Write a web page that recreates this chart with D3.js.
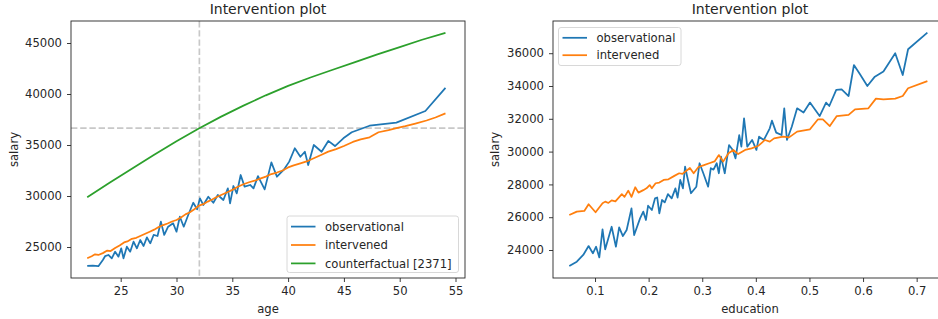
<!DOCTYPE html>
<html>
  <head>
    <meta charset="utf-8">
    <script src="https://cdn.jsdelivr.net/npm/d3@7"></script>
    <style>
      body { margin: 0; background: #ffffff; }
      svg text { font-family: "DejaVu Sans", sans-serif; fill: #262626; }
    </style>
  </head>
  <body>
    <script>
      // ---- left panel: salary against age ----
      var ageObs = [22.0, 22.5, 23.0, 23.4, 23.6, 23.9, 24.2, 24.5, 24.8, 25.05, 25.25, 25.55, 25.85, 26.15, 26.45, 26.75,
                    27.05, 27.35, 27.65, 27.95, 28.3, 28.6, 28.9, 29.25, 29.7, 30.0, 30.3, 30.65, 31.05, 31.5, 31.85, 32.1,
                    32.4, 32.85, 33.3, 33.7, 34.2, 34.6, 34.8, 35.1, 35.4, 35.75, 36.1, 36.6, 36.9, 37.3, 37.9, 38.5,
                    39.0, 39.6, 40.1, 40.6, 41.1, 41.5, 41.8, 42.3, 43.0, 43.6, 44.2, 44.95, 45.7, 47.3, 49.7, 52.3, 54.1];
      var salaryObs = [23140, 23170, 23120, 23730, 24100, 24220, 23890, 24540, 24050, 24870, 23890, 25030, 24540, 25520, 24870, 25690,
                       25100, 25950, 25360, 26180, 26080, 27480, 26180, 26990, 27320, 26500, 27970, 26990, 28140, 29340, 28700, 29770,
                       29120, 29930, 29340, 30100, 29610, 30750, 29280, 30980, 30260, 32060, 30920, 31080, 30750, 31950, 30650, 33300,
                       31890, 32550, 33370, 34680, 33850, 34340, 33040, 35000, 34340, 35400, 34900, 35660, 36250, 36890, 37190, 38330, 40600];

      var ageInt = [22.0, 22.4, 22.7, 23.0, 23.4, 23.8, 24.1, 24.5, 24.9, 25.3, 25.6, 26.0, 26.4, 26.8, 27.2, 27.6,
                    28.0, 28.4, 28.8, 29.2, 29.6, 30.0, 30.4, 30.8, 31.2, 31.6, 32.0, 32.4, 32.8, 33.2, 33.6, 34.0,
                    34.5, 35.0, 35.5, 36.0, 36.5, 37.0, 37.5, 38.0, 38.5, 39.0, 39.5, 40.0, 40.5, 41.1, 41.8, 42.4,
                    43.0, 43.6, 44.3, 45.0, 45.8, 46.5, 47.3, 48.1, 49.0, 49.7, 50.5, 51.4, 52.4, 53.2, 54.1];
      var salaryInt = [23890, 24100, 24280, 24220, 24400, 24650, 24600, 24900, 25150, 25450, 25550, 25800, 25900, 26100, 26300, 26500,
                       26700, 26950, 27150, 27300, 27500, 27650, 27900, 28200, 28400, 28700, 29050, 29200, 29450, 29650, 29900, 30100,
                       30350, 30600, 30900, 31150, 31350, 31500, 31700, 31900, 32150, 32300, 32500, 32800, 33000, 33200, 33450, 33750,
                       34050, 34350, 34600, 34900, 35300, 35550, 35750, 36250, 36450, 36650, 36850, 37100, 37400, 37700, 38100];

      var ageCf = [22, 24, 26, 28, 30, 32, 34, 36, 38, 40, 42, 44, 46, 48, 50, 52, 54.1];
      var salaryCf = [29870, 31290, 32680, 34040, 35370, 36620, 37780, 38860, 39870, 40800, 41620, 42380, 43130, 43880, 44600, 45320, 46000];

      // the chosen unit: age and its counterfactual salary (dashed lines)
      var refAge = 32.05;
      var refSalary = 36650;

      var ageTicks = [25, 30, 35, 40, 45, 50, 55];
      var ageSalaryTicks = [25000, 30000, 35000, 40000, 45000];

      // ---- right panel: salary against education ----
      var eduObs = [0.052, 0.066, 0.078, 0.088, 0.096, 0.102, 0.108, 0.114, 0.119, 0.131, 0.139, 0.145, 0.152, 0.159, 0.168, 0.173,
                    0.184, 0.19, 0.195, 0.199, 0.206, 0.212, 0.216, 0.22, 0.225, 0.23, 0.236, 0.243, 0.25, 0.254, 0.259, 0.264,
                    0.268, 0.272, 0.279, 0.289, 0.295, 0.302, 0.311, 0.316, 0.321, 0.327, 0.331, 0.335, 0.342, 0.35, 0.357, 0.362,
                    0.369, 0.373, 0.378, 0.384, 0.393, 0.401, 0.406, 0.415, 0.426, 0.43, 0.438, 0.448, 0.453, 0.458, 0.467, 0.477,
                    0.489, 0.501, 0.519, 0.531, 0.537, 0.55, 0.56, 0.573, 0.583, 0.594, 0.608, 0.622, 0.638, 0.66, 0.674, 0.684, 0.72];
      var salaryEduObs = [23020, 23290, 23700, 24240, 23800, 24200, 23550, 25260, 24040, 25420, 24200, 25380, 24850, 25220, 26540, 24910,
                          25930, 26340, 25830, 26700, 26440, 27150, 27200, 26240, 27050, 26900, 27410, 27150, 27760, 27200, 28270, 27760,
                          29080, 28470, 27460, 27860, 29290, 28680, 27860, 28990, 28900, 29290, 28680, 29690, 28680, 30400, 30100, 29590,
                          31010, 30300, 32030, 30300, 30710, 30100, 30910, 30710, 31420, 31890, 31160, 31010, 32640, 30710, 31520, 32640,
                          32380, 32990, 32170, 32990, 32780, 33760, 33800, 33390, 35280, 34730, 34000, 34570, 34880, 36000, 34670, 36240, 37260];

      var eduInt = [0.052, 0.066, 0.08, 0.088, 0.101, 0.114, 0.119, 0.125, 0.131, 0.138, 0.15, 0.155, 0.162, 0.168, 0.175, 0.181,
                    0.19, 0.196, 0.202, 0.206, 0.213, 0.22, 0.228, 0.237, 0.248, 0.257, 0.263, 0.277, 0.284, 0.293, 0.302, 0.313,
                    0.323, 0.331, 0.339, 0.349, 0.358, 0.367, 0.38, 0.392, 0.405, 0.417, 0.426, 0.434, 0.451, 0.462, 0.477, 0.501,
                    0.516, 0.525, 0.538, 0.551, 0.573, 0.585, 0.61, 0.624, 0.638, 0.66, 0.674, 0.684, 0.72];
      var salaryEduInt = [26130, 26340, 26380, 26790, 26300, 26850, 26950, 26870, 27030, 26970, 27410, 27240, 27620, 27240, 27830, 27500,
                          27650, 27760, 27960, 27760, 28070, 28110, 28270, 28310, 28520, 28680, 28640, 29000, 28680, 29060, 29160, 29290,
                          29400, 29790, 29390, 29900, 30100, 29850, 30100, 30200, 30360, 30710, 30610, 30810, 30910, 30870, 31220, 31360,
                          31970, 31970, 31560, 32170, 32240, 32580, 32640, 33230, 33190, 33230, 33390, 33860, 34300];

      var eduTicks = [0.1, 0.2, 0.3, 0.4, 0.5, 0.6, 0.7];
      var eduSalaryTicks = [24000, 26000, 28000, 30000, 32000, 34000, 36000];

      var colors = { obs: "#1f77b4", int: "#ff7f0e", cf: "#2ca02c" };

      var width = 938;
      var height = 319;
      var fontSize = 11.6;

      var svg = d3.select("body")
                  .append("svg")
                  .attr("width", width)
                  .attr("height", height);

      // draws one matplotlib-like axes box with its lines and legend
      function drawPanel(p) {
          var top = 21, bottom = 278, w = 394;
          var x = d3.scaleLinear().domain(p.xDomain).range([p.left, p.left + w]);
          var y = d3.scaleLinear().domain(p.yDomain).range([bottom, top]);
          var g = svg.append("g");

          // x axis
          var xAxis = g.append("g")
                       .attr("transform", "translate(0," + bottom + ")")
                       .call(d3.axisBottom(x).tickValues(p.xTicks).tickSize(4).tickPadding(5)
                               .tickFormat(p.xFormat));
          // y axis
          var yAxis = g.append("g")
                       .attr("transform", "translate(" + p.left + ",0)")
                       .call(d3.axisLeft(y).tickValues(p.yTicks).tickSize(4).tickPadding(5)
                               .tickFormat(d3.format("d")));
          [xAxis, yAxis].forEach(function(a) {
              a.select(".domain").remove();
              a.selectAll("line").attr("stroke", "#262626").attr("stroke-width", 0.9);
              a.selectAll("text").attr("font-size", fontSize)
               .attr("font-family", "DejaVu Sans").attr("fill", "#333");
          });

          // reference dashed lines
          (p.refs || []).forEach(function(r) {
              var line = g.append("line")
                          .attr("stroke", "#c8c8c8")
                          .attr("stroke-width", 1.7)
                          .attr("stroke-dasharray", "6.4,2.8");
              if (r.x !== undefined) {
                  line.attr("x1", x(r.x)).attr("x2", x(r.x)).attr("y1", top).attr("y2", bottom);
              } else {
                  line.attr("x1", p.left).attr("x2", p.left + w).attr("y1", y(r.y)).attr("y2", y(r.y));
              }
          });

          // the series
          var lineGen = d3.line().x(function(d) { return x(d[0]); })
                                 .y(function(d) { return y(d[1]); });
          p.series.forEach(function(s) {
              g.append("path")
               .datum(d3.zip(s.xs, s.ys))
               .attr("fill", "none")
               .attr("stroke", s.color)
               .attr("stroke-width", 1.75)
               .attr("stroke-linejoin", "round")
               .attr("d", lineGen);
          });

          // frame
          g.append("rect")
           .attr("x", p.left).attr("y", top)
           .attr("width", w).attr("height", bottom - top)
           .attr("fill", "none")
           .attr("stroke", "#262626")
           .attr("stroke-width", 0.9);

          // title and labels
          g.append("text")
           .attr("x", p.left + w / 2).attr("y", 14)
           .attr("text-anchor", "middle")
           .attr("font-size", 14)
           .text("Intervention plot");
          g.append("text")
           .attr("x", p.left + w / 2).attr("y", 313)
           .attr("text-anchor", "middle")
           .attr("font-size", fontSize)
           .text(p.xLabel);
          g.append("text")
           .attr("transform", "translate(" + p.yLabelX + "," + ((top + bottom) / 2) + ") rotate(-90)")
           .attr("text-anchor", "middle")
           .attr("font-size", fontSize)
           .text("salary");

          // legend
          var lg = p.legend;
          g.append("rect")
           .attr("x", lg.x).attr("y", lg.y)
           .attr("width", lg.w).attr("height", lg.h)
           .attr("rx", 2.5)
           .attr("fill", "#ffffff").attr("fill-opacity", 0.8)
           .attr("stroke", "#d4d4d4").attr("stroke-width", 0.9);
          p.series.forEach(function(s, i) {
              var ry = lg.rows[i];
              g.append("line")
               .attr("x1", lg.x + 4).attr("x2", lg.x + 28.5)
               .attr("y1", ry).attr("y2", ry)
               .attr("stroke", s.color).attr("stroke-width", 1.75);
              g.append("text")
               .attr("x", lg.x + 38).attr("y", ry)
               .attr("dy", "0.36em")
               .attr("font-size", fontSize)
               .text(s.label);
          });
      }

      drawPanel({
          left: 71,
          xDomain: [20.547, 55.85],
          yDomain: [21961, 47157],
          xTicks: ageTicks,
          yTicks: ageSalaryTicks,
          xFormat: d3.format("d"),
          xLabel: "age",
          yLabelX: 17.5,
          refs: [{ x: refAge }, { y: refSalary }],
          series: [
              { xs: ageObs, ys: salaryObs, color: colors.obs, label: "observational" },
              { xs: ageInt, ys: salaryInt, color: colors.int, label: "intervened" },
              { xs: ageCf, ys: salaryCf, color: colors.cf, label: "counterfactual [2371]" }
          ],
          legend: { x: 287, y: 216, w: 171.5, h: 56.5, rows: [226.6, 245, 263.4] }
      });

      drawPanel({
          left: 553,
          xDomain: [0.0216, 0.7566],
          yDomain: [22293, 37964],
          xTicks: eduTicks,
          yTicks: eduSalaryTicks,
          xFormat: d3.format(".1f"),
          xLabel: "education",
          yLabelX: 499,
          refs: [],
          series: [
              { xs: eduObs, ys: salaryEduObs, color: colors.obs, label: "observational" },
              { xs: eduInt, ys: salaryEduInt, color: colors.int, label: "intervened" }
          ],
          legend: { x: 558.5, y: 27.5, w: 122.5, h: 38, rows: [37.8, 55.2] }
      });
    </script>
  </body>
</html>
